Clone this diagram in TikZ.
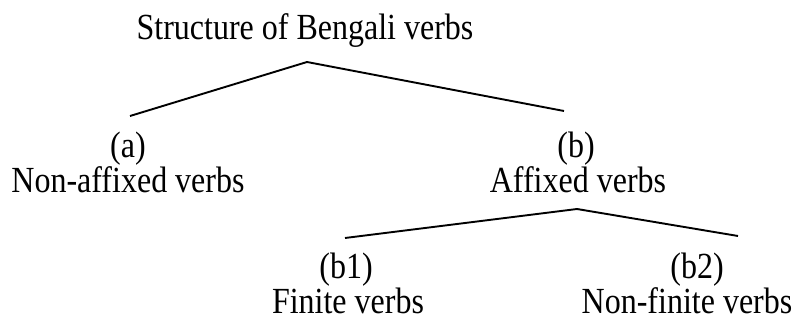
\documentclass[tikz,border=0pt]{standalone}
\usepackage{fontspec}
\setmainfont{Liberation Serif}
\begin{document}
\begin{tikzpicture}[x=1pt,y=-1pt,
  lbl/.style={anchor=base,inner sep=0pt,font=\fontsize{32}{36}\selectfont},
  branch/.style={line width=1.9pt,line join=miter}]
\newcommand{\tallt}[1]{\scalebox{1}[1.15]{#1}}
\useasboundingbox (0,0) rectangle (803,320);
\node[lbl] (title) at (305,40) {\tallt{Structure of Bengali verbs}};
\node[lbl] (a) at (128,158) {\tallt{(a)}};
\node[lbl] (atext) at (128,193) {\tallt{Non-affixed verbs}};
\node[lbl] (b) at (576,158) {\tallt{(b)}};
\node[lbl] (btext) at (578,193) {\tallt{Affixed verbs}};
\node[lbl] (b1) at (346,279) {\tallt{(b1)}};
\node[lbl] (b1text) at (348,313) {\tallt{Finite verbs}};
\node[lbl] (b2) at (697,279) {\tallt{(b2)}};
\node[lbl] (b2text) at (687,313) {\tallt{Non-finite verbs}};
\coordinate (top1) at (307,62);
\coordinate (enda) at (130,116);
\coordinate (endb) at (564,111);
\coordinate (top2) at (577,209);
\coordinate (endb1) at (345,238);
\coordinate (endb2) at (738,236);
\draw[branch] (enda) -- (top1) -- (endb);
\draw[branch] (endb1) -- (top2) -- (endb2);
\end{tikzpicture}
\end{document}
